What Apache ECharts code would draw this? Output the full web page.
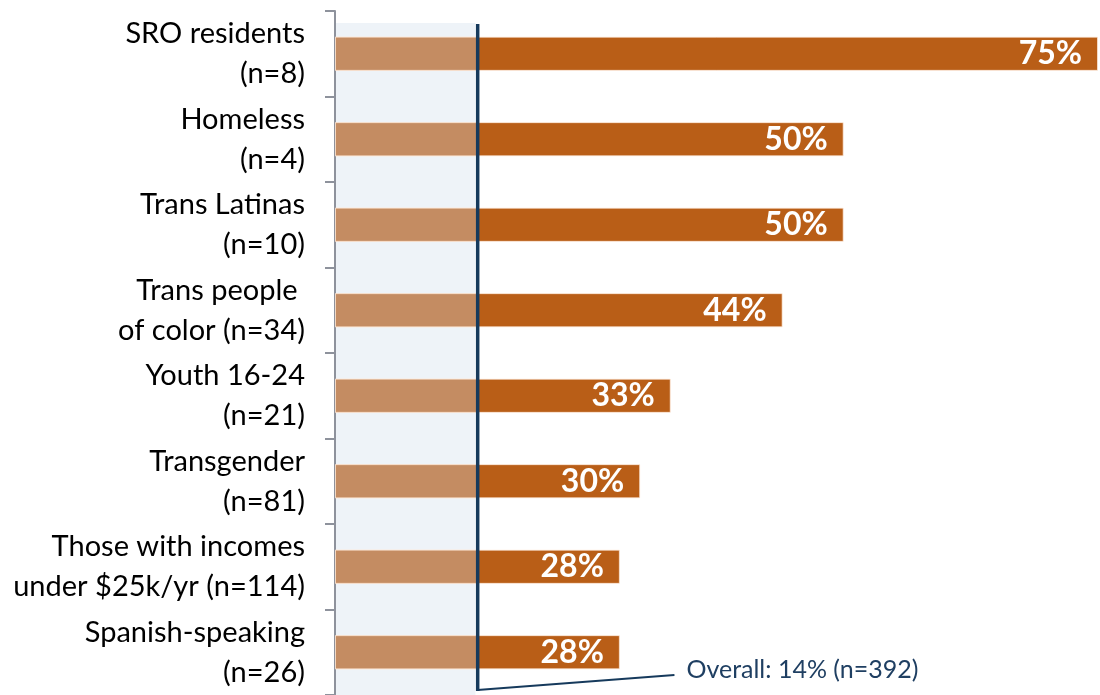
<!DOCTYPE html>
<html>
<head>
<meta charset="utf-8">
<script src="https://cdn.jsdelivr.net/npm/echarts@6/dist/echarts.min.js"></script>
<style>
  html, body { margin: 0; padding: 0; background: #ffffff; }
  #chart { width: 1100px; height: 695px; }
</style>
</head>
<body>
<div id="chart"></div>
<script>
// Groups shown top to bottom
const categories = [
  'SRO residents\n(n=8)',
  'Homeless\n(n=4)',
  'Trans Latinas\n(n=10)',
  'Trans people \nof color (n=34)',
  'Youth 16-24\n(n=21)',
  'Transgender\n(n=81)',
  'Those with incomes\nunder $25k/yr (n=114)',
  'Spanish-speaking\n(n=26)'
];
// Share of each group, in percent
const groupValues = [75, 50, 50, 44, 33, 30, 28, 28];
// Overall share across all respondents
const overallValue = 14;
const overallText = 'Overall: 14% (n=392)';

const FONT = 'Lato, "Open Sans", sans-serif';
const DARK = '#b95e17';
const LIGHT = '#c48c62';
const NAVY = '#163a5c';

const chart = echarts.init(document.getElementById('chart'), null, { renderer: 'canvas' });

chart.setOption({
  animation: false,
  backgroundColor: '#ffffff',
  grid: { left: 335, right: 2, top: 11, height: 688, containLabel: false },
  xAxis: {
    type: 'value',
    min: 0,
    max: 75,
    show: false
  },
  yAxis: {
    type: 'category',
    inverse: true,
    data: categories,
    axisLine: { show: true, lineStyle: { color: '#8e929c', width: 2 } },
    axisTick: { show: true, length: 10, lineStyle: { color: '#8e929c', width: 2 } },
    axisLabel: {
      fontFamily: FONT,
      fontSize: 29,
      color: '#000000',
      lineHeight: 40,
      margin: 30,
      align: 'right'
    },
    splitLine: { show: false }
  },
  series: [
    {
      name: 'Group',
      type: 'bar',
      data: groupValues,
      barWidth: '40%',
      barGap: '-100%',
      itemStyle: { color: DARK, borderColor: 'rgba(255,235,220,0.7)', borderWidth: 1 },
      label: {
        show: true,
        position: 'insideRight',
        distance: 16,
        formatter: p => p.value + '%',
        fontFamily: FONT,
        fontWeight: 'bold',
        fontSize: 32,
        color: '#ffffff'
      },
      z: 3
    },
    {
      name: 'Overall',
      type: 'bar',
      data: groupValues.map(() => overallValue),
      barWidth: '40%',
      itemStyle: { color: LIGHT, borderColor: 'rgba(255,235,220,0.7)', borderWidth: 1 },
      label: { show: false },
      z: 4
    }
  ]
});

// Overall reference band, line and callout placed through the axis scales
function drawOverlay() {
  const x0 = chart.convertToPixel({ xAxisIndex: 0 }, 0);
  const xo = chart.convertToPixel({ xAxisIndex: 0 }, overallValue);
  const h = chart.getHeight();
  const top = 24;
  const bottom = h - 5;
  chart.setOption({
    graphic: {
      elements: [
        {
          type: 'rect',
          z: 0,
          shape: { x: x0 + 1, y: top - 1, width: xo - x0 - 3, height: h - top + 1 },
          style: { fill: '#eef3f8' }
        },
        {
          type: 'rect',
          z: 100,
          shape: { x: xo - 1.5, y: top, width: 3.5, height: bottom - top + 1 },
          style: { fill: NAVY }
        },
        {
          type: 'polyline',
          z: 100,
          shape: { points: [[xo, bottom], [xo + 197, bottom - 15]] },
          style: { stroke: NAVY, lineWidth: 2, fill: null }
        },
        {
          type: 'text',
          z: 100,
          x: xo + 209,
          y: bottom - 20,
          style: {
            text: overallText,
            fontFamily: FONT,
            fontSize: 25,
            fill: '#1f3f62',
            verticalAlign: 'middle',
            align: 'left'
          }
        }
      ]
    }
  });
}
drawOverlay();
</script>
</body>
</html>
